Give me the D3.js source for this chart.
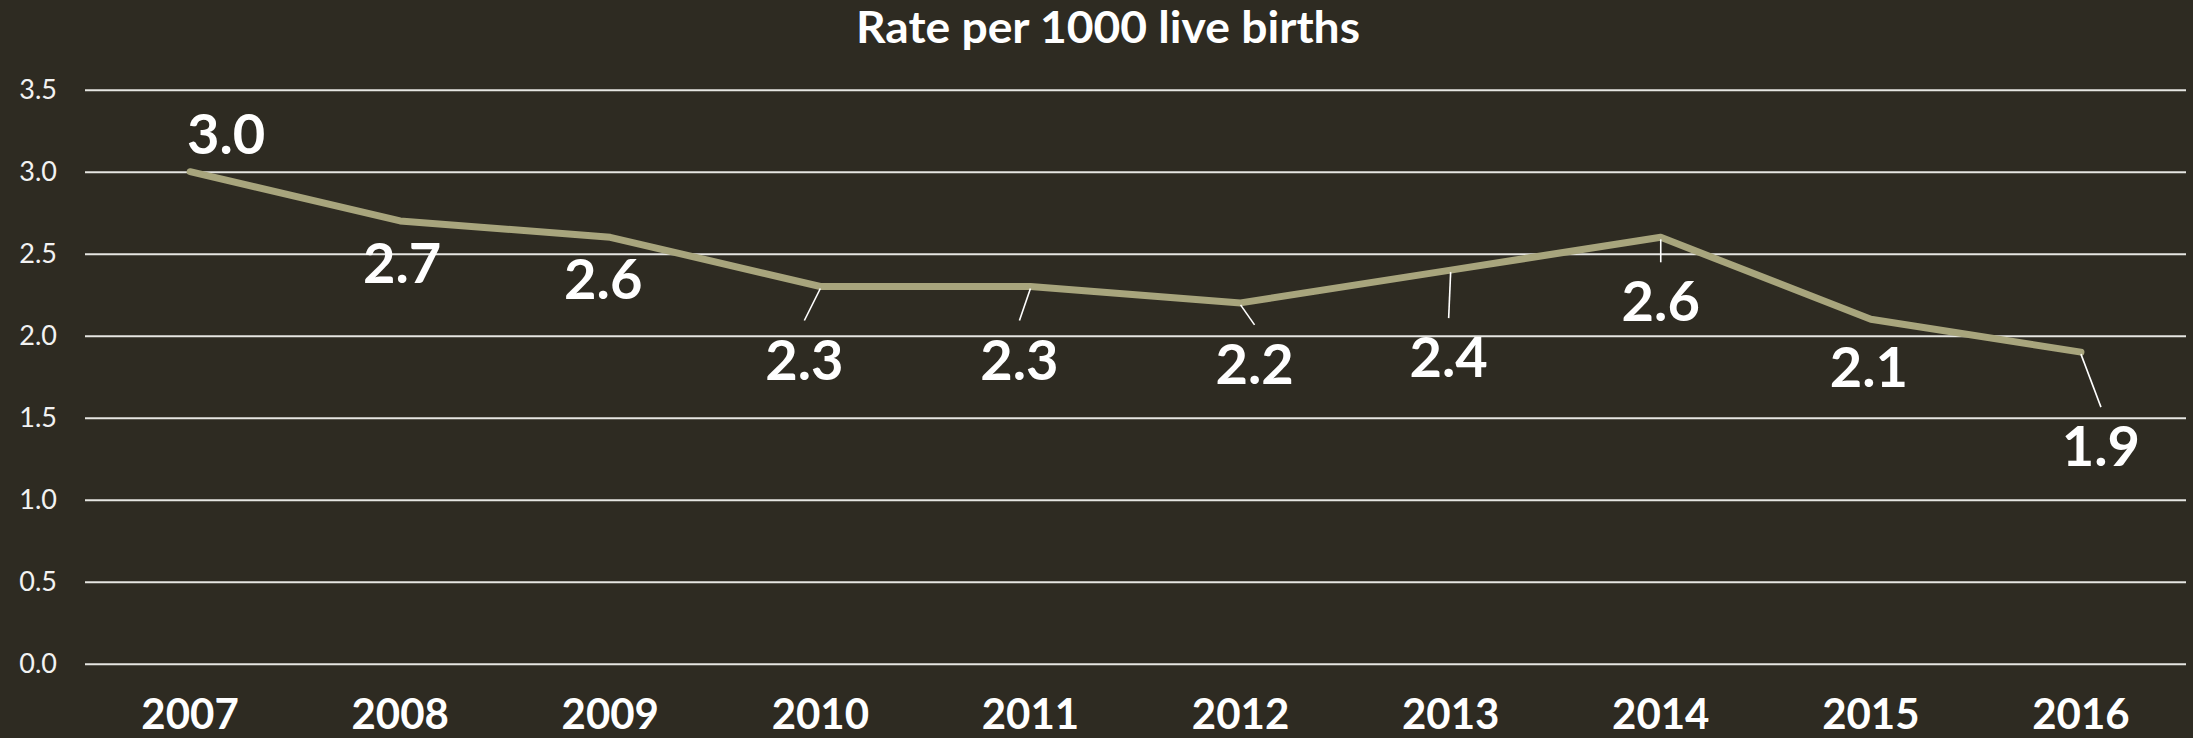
<!DOCTYPE html>
<html>
<head>
<meta charset="utf-8">
<script src="https://cdn.jsdelivr.net/npm/d3@7"></script>
<style>
html, body { margin: 0; padding: 0; background: #2e2b22; }
svg { display: block; }
</style>
</head>
<body>
<svg id="chart" width="2193" height="738"></svg>
<script>
// ---- data ----
const years = ["2007","2008","2009","2010","2011","2012","2013","2014","2015","2016"];
const rates = [3.0, 2.7, 2.6, 2.3, 2.3, 2.2, 2.4, 2.6, 2.1, 1.9];
const yTicks = [0.0, 0.5, 1.0, 1.5, 2.0, 2.5, 3.0, 3.5];
const title = "Rate per 1000 live births";

// ---- label layout (pixel offsets from each point, and leader flag) ----
const labelDx = [36, 2, -7, -16, -11, 14, -2, 0, -2, 20];
const labelDy = [-38, 42, 42, 73, 73, 61, 87, 64, 48, 94];
const hasLeader = [false, false, false, true, true, true, true, true, false, true];

const W = 2193, H = 738;
const margin = { left: 85, right: 7, top: 89, bottom: 74 };
const svg = d3.select("#chart");
svg.append("rect").attr("width", W).attr("height", H).attr("fill", "#2e2b22");

const x = d3.scaleBand().domain(years).range([margin.left, W - margin.right]).padding(0);
const y = d3.scaleLinear().domain([0, 3.5]).range([663.7, 89.7]);

// gridlines + y labels
const yAxis = svg.append("g")
  .attr("transform", `translate(${margin.left},0)`)
  .call(d3.axisLeft(y).tickValues(yTicks).tickFormat(d3.format(".1f"))
        .tickSize(-(W - margin.right - margin.left)).tickPadding(28));
yAxis.select(".domain").remove();
yAxis.selectAll(".tick line").attr("stroke", "#e6e6e2").attr("stroke-width", 2);
yAxis.selectAll(".tick text")
  .attr("fill", "#f2f2f2")
  .attr("font-family", "Lato, 'Open Sans', sans-serif")
  .attr("font-size", 27)
  .attr("font-weight", 400);

// x axis labels
const xAxis = svg.append("g")
  .attr("transform", `translate(0,${y(0)})`)
  .call(d3.axisBottom(x).tickSize(0));
xAxis.select(".domain").remove();
xAxis.selectAll(".tick text")
  .attr("y", 65).attr("dy", 0)
  .attr("fill", "#ffffff")
  .attr("font-family", "Lato, 'Open Sans', sans-serif")
  .attr("font-size", 42)
  .attr("font-weight", 700);

// title
svg.append("text")
  .attr("x", 856).attr("y", 43)
  .attr("fill", "#ffffff")
  .attr("font-family", "Lato, 'Open Sans', sans-serif")
  .attr("font-size", 43)
  .attr("font-weight", 700)
  .attr("textLength", 504)
  .attr("lengthAdjust", "spacingAndGlyphs")
  .text(title);

// line
const pts = years.map((yr, i) => ({ yr, v: rates[i], px: x(yr) + x.bandwidth() / 2, py: y(rates[i]) }));
const line = d3.line().x(d => d.px).y(d => d.py);
svg.append("path")
  .datum(pts)
  .attr("d", line)
  .attr("fill", "none")
  .attr("stroke", "#a8a57d")
  .attr("stroke-width", 7)
  .attr("stroke-linejoin", "round")
  .attr("stroke-linecap", "round");

// leader lines
pts.forEach((p, i) => {
  if (!hasLeader[i]) return;
  const lx = p.px + labelDx[i], ly = p.py + labelDy[i];
  svg.append("line")
    .attr("x1", p.px).attr("y1", p.py + 2)
    .attr("x2", lx).attr("y2", ly - 39)
    .attr("stroke", "#ffffff").attr("stroke-width", 1.6);
});

// data labels
svg.append("g").selectAll("text")
  .data(pts)
  .join("text")
  .attr("x", (d, i) => d.px + labelDx[i])
  .attr("y", (d, i) => d.py + labelDy[i] + 20)
  .attr("text-anchor", "middle")
  .attr("fill", "#ffffff")
  .attr("font-family", "Lato, 'Open Sans', sans-serif")
  .attr("font-size", 56)
  .attr("font-weight", 700)
  .text(d => d3.format(".1f")(d.v));
</script>
</body>
</html>
